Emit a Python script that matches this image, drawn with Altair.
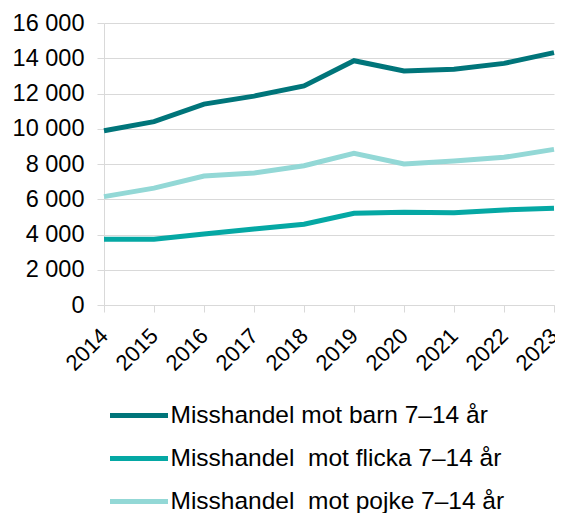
import altair as alt
import pandas as pd

years = ["2014", "2015", "2016", "2017", "2018", "2019", "2020", "2021", "2022", "2023"]
series_names = [
    "Misshandel mot barn 7–14 år",
    "Misshandel\u00a0 mot flicka 7–14 år",
    "Misshandel\u00a0 mot pojke 7–14 år",
]
barn = [9890, 10400, 11400, 11850, 12430, 13860, 13280, 13370, 13710, 14320]
flicka = [3730, 3730, 4030, 4310, 4580, 5200, 5260, 5240, 5390, 5490]
pojke = [6150, 6630, 7320, 7490, 7900, 8610, 8000, 8170, 8380, 8830]
colors = ["#00757A", "#05A8A4", "#93D8D6"]
y_ticks = [0, 2000, 4000, 6000, 8000, 10000, 12000, 14000, 16000]

rows = []
for name, vals in zip(series_names, [barn, flicka, pojke]):
    for yr, v in zip(years, vals):
        rows.append({"year": yr, "value": v, "series": name})
df = pd.DataFrame(rows)

font = "Liberation Sans"

chart = (
    alt.Chart(df)
    .mark_line(strokeWidth=5)
    .encode(
        x=alt.X(
            "year:O",
            sort=years,
            scale=alt.Scale(padding=0),
            axis=alt.Axis(
                title=None,
                labelAngle=-45,
                labelAlign="right",
                labelBaseline="middle",
                labelFontSize=22,
                labelFont=font,
                labelColor="#000000",
                domainColor="#d9d9d9",
                tickColor="#d9d9d9",
                tickSize=7,
                labelPadding=20,
                grid=False,
            ),
        ),
        y=alt.Y(
            "value:Q",
            scale=alt.Scale(domain=[0, 16000], nice=False),
            axis=alt.Axis(
                title=None,
                values=y_ticks,
                labelExpr="replace(format(datum.value, ','), regexp(',', 'g'), ' ')",
                labelFontSize=23.5,
                labelFont=font,
                labelColor="#000000",
                domainColor="#d9d9d9",
                tickColor="#d9d9d9",
                tickSize=7,
                labelPadding=13,
                grid=True,
                gridColor="#d9d9d9",
                gridWidth=1,
            ),
        ),
        color=alt.Color(
            "series:N",
            sort=series_names,
            scale=alt.Scale(domain=series_names, range=colors),
            legend=alt.Legend(
                title=None,
                orient="none",
                legendX=3.5,
                legendY=361,
                direction="vertical",
                symbolType="stroke",
                symbolSize=3364,
                symbolStrokeWidth=5,
                labelFontSize=24.5,
                labelFont=font,
                labelColor="#000000",
                labelOffset=0,
                rowPadding=-18.5,
                padding=0,
                labelLimit=500,
            ),
        ),
    )
    .properties(
        width=450,
        height=282,
        autosize=alt.AutoSizeParams(type="none"),
        padding={"left": 96, "top": 15, "right": 1, "bottom": 208},
    )
    .configure_view(stroke=None)
)

chart.save("out.html", embed_options={"renderer": "svg", "actions": False})
